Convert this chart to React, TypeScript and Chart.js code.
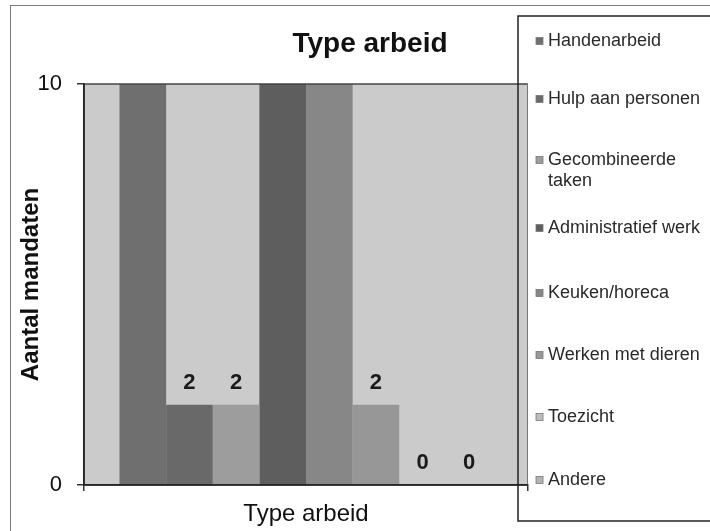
import React, { useEffect, useRef } from 'react';
import { Chart, registerables } from 'chart.js';

Chart.register(...registerables);

// ---------- data ----------
const categories = ['Type arbeid'];
const seriesNames = [
  'Handenarbeid',
  'Hulp aan personen',
  'Gecombineerde taken',
  'Administratief werk',
  'Keuken/horeca',
  'Werken met dieren',
  'Toezicht',
  'Andere',
];
// values above the axis maximum (10) are cut off in the picture; estimated
const seriesValues = [12, 2, 2, 12, 12, 2, 0, 0];
const seriesColors = ['#6f6f6f', '#696969', '#9d9d9d', '#5e5e5e', '#878787', '#979797', '#bdbdbd', '#b3b3b3'];
const yMin = 0;
const yMax = 10;
const yStep = 10;
const chartTitle = 'Type arbeid';
const xAxisTitle = 'Type arbeid';
const yAxisTitle = 'Aantal mandaten';

// ---------- style / layout ----------
const FONT = 'Arial, "Liberation Sans", sans-serif';
const PLOT_BG = '#cbcbcb';
const LEGEND_ITEM_Y = [41, 99, 160, 228, 293, 355, 417, 480];

const framePlugin = {
  id: 'frame',
  beforeDraw(chart: any) {
    const { ctx, chartArea: a, width, height } = chart;
    ctx.save();
    ctx.fillStyle = '#ffffff';
    ctx.fillRect(0, 0, width, height);
    ctx.fillStyle = PLOT_BG;
    ctx.fillRect(a.left, a.top, a.right - a.left, a.bottom - a.top);
    ctx.restore();
  },
  afterDatasetsDraw(chart: any) {
    const { ctx, chartArea: a } = chart;
    ctx.save();
    // plot frame
    ctx.strokeStyle = '#444';
    ctx.lineWidth = 1.5;
    ctx.beginPath();
    ctx.moveTo(a.left, a.top);
    ctx.lineTo(a.right, a.top);
    ctx.stroke();
    ctx.strokeStyle = '#777';
    ctx.lineWidth = 1;
    ctx.beginPath();
    ctx.moveTo(a.right - 0.5, a.top);
    ctx.lineTo(a.right - 0.5, a.bottom);
    ctx.stroke();
    ctx.strokeStyle = '#222';
    ctx.lineWidth = 1.5;
    ctx.beginPath();
    ctx.moveTo(a.left, a.top);
    ctx.lineTo(a.left, a.bottom);
    ctx.lineTo(a.right, a.bottom);
    ctx.stroke();

    // data labels
    ctx.fillStyle = '#1a1a1a';
    ctx.font = `bold 22px ${FONT}`;
    ctx.textAlign = 'center';
    ctx.textBaseline = 'middle';
    chart.data.datasets.forEach((ds: any, di: number) => {
      const meta = chart.getDatasetMeta(di);
      meta.data.forEach((el: any, i: number) => {
        const v = ds.data[i];
        if (v > yMax) return;
        ctx.fillText(String(v), el.x, el.y - 22);
      });
    });
    ctx.restore();
  },
  afterDraw(chart: any) {
    const { ctx, chartArea: a } = chart;
    ctx.save();
    // outer border
    ctx.strokeStyle = '#7a7a7a';
    ctx.lineWidth = 1;
    ctx.strokeRect(10.5, 5.5, 900, 700);

    // title
    ctx.fillStyle = '#111';
    ctx.font = `bold 28px ${FONT}`;
    ctx.textAlign = 'center';
    ctx.textBaseline = 'middle';
    ctx.fillText(chartTitle, 370, 44);

    // legend box
    ctx.strokeStyle = '#222';
    ctx.lineWidth = 1.5;
    ctx.strokeRect(518, 16, 300, 505);

    // legend items
    ctx.font = `18px ${FONT}`;
    ctx.textAlign = 'left';
    const maxW = 160;
    chart.data.datasets.forEach((ds: any, i: number) => {
      const y = LEGEND_ITEM_Y[i];
      // wrap
      const words = String(ds.label).split(' ');
      const lines: string[] = [];
      let cur = '';
      words.forEach((w) => {
        const t = cur ? cur + ' ' + w : w;
        if (cur && ctx.measureText(t).width > maxW) {
          lines.push(cur);
          cur = w;
        } else cur = t;
      });
      if (cur) lines.push(cur);
      ctx.fillStyle = ds.backgroundColor;
      ctx.fillRect(536, y - 3.5, 7, 7);
      ctx.strokeStyle = '#777';
      ctx.lineWidth = 0.8;
      ctx.strokeRect(536, y - 3.5, 7, 7);
      ctx.fillStyle = '#2a2a2a';
      lines.forEach((ln, k) => ctx.fillText(ln, 548, y + k * 21));
    });
    ctx.restore();
  },
};

export default function App() {
  const ref = useRef<HTMLCanvasElement>(null);
  useEffect(() => {
    document.body.style.margin = '0';
    const canvas = ref.current;
    if (!canvas) return;
    const chart = new Chart(canvas, {
      type: 'bar',
      data: {
        labels: categories,
        datasets: seriesNames.map((name, i) => ({
          label: name,
          data: [seriesValues[i]],
          backgroundColor: seriesColors[i],
          borderWidth: 0,
          barPercentage: 1,
          categoryPercentage: 0.84,
        })),
      },
      options: {
        responsive: false,
        animation: false,
        devicePixelRatio: 1,
        layout: { padding: { top: 84, left: 10, right: 182, bottom: 0 } },
        plugins: {
          legend: { display: false },
          title: { display: false },
          tooltip: { enabled: false },
        },
        scales: {
          x: {
            afterFit: (s: any) => {
              s.height = 46;
            },
            ticks: { display: false },
            grid: {
              display: true,
              drawOnChartArea: false,
              drawTicks: true,
              tickLength: 6,
              offset: true,
              color: '#333',
              lineWidth: 1.5,
            },
            border: { display: true, color: '#222', width: 1.5 },
            title: {
              display: true,
              text: xAxisTitle,
              color: '#111',
              font: { family: FONT, size: 24, weight: 'normal' },
              padding: { top: 0, bottom: 2 },
            },
          },
          y: {
            min: yMin,
            max: yMax,
            afterFit: (s: any) => {
              s.width = 74;
            },
            ticks: {
              stepSize: yStep,
              color: '#111',
              padding: 15,
              font: { family: FONT, size: 22 },
            },
            grid: {
              display: true,
              drawOnChartArea: false,
              drawTicks: true,
              tickLength: 7,
              color: '#333',
              lineWidth: 1.5,
            },
            border: { display: true, color: '#222', width: 1.5 },
            title: {
              display: true,
              text: yAxisTitle,
              color: '#111',
              font: { family: FONT, size: 24, weight: 'bold' },
              padding: { top: 7, bottom: 0 },
            },
          },
        },
      } as any,
      plugins: [framePlugin],
    });
    return () => chart.destroy();
  }, []);
  return (
    <div style={{ width: 710, height: 531 }}>
      <canvas ref={ref} width={710} height={531} style={{ display: 'block' }} />
    </div>
  );
}
